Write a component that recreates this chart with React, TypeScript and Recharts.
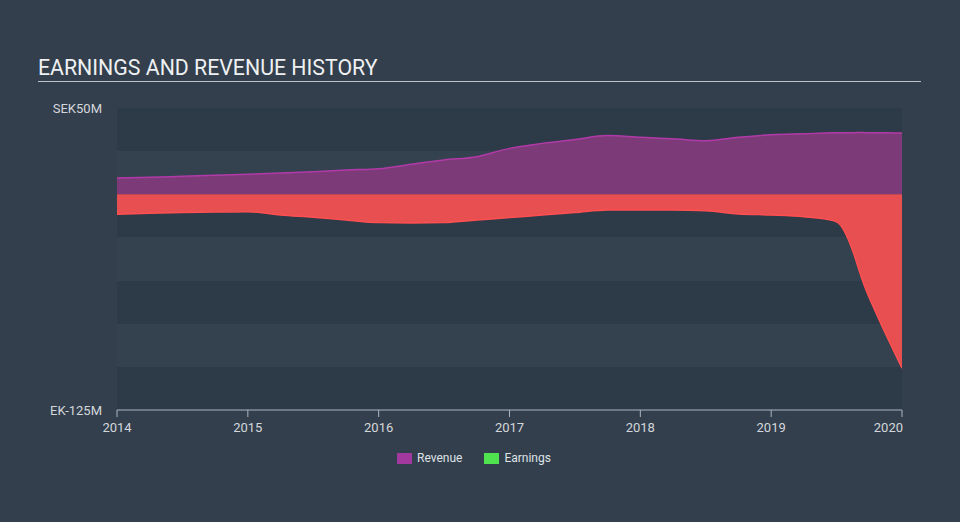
import React from 'react';
import { AreaChart, Area, XAxis, YAxis, CartesianGrid } from 'recharts';

const times = [
  2014, 2014.25, 2014.5, 2014.75, 2015, 2015.25, 2015.5, 2015.75, 2016, 2016.25, 2016.5, 2016.75,
  2017, 2017.25, 2017.5, 2017.75, 2018, 2018.25, 2018.5, 2018.75, 2019, 2019.25,
  2019.48, 2019.53, 2019.58, 2019.63, 2019.68, 2019.72, 2019.78, 2019.885, 2020,
];
const revenue = [
  9.5, 9.8, 10.4, 11, 11.6, 12.3, 13.1, 14.1, 14.8, 17.4, 19.9, 21.8,
  26.6, 29.5, 31.8, 34, 33, 32.2, 31, 33, 34.5, 35.1,
  35.6, 35.6, 35.7, 35.7, 35.8, 35.7, 35.7, 35.6, 35.5,
];
const earnings = [
  -11.6, -11, -10.6, -10.3, -10.1, -12, -13.3, -14.9, -16.4, -16.6, -16.4, -14.9,
  -13.5, -12, -10.6, -9.1, -9.1, -9.1, -9.5, -11.4, -12, -13,
  -15.3, -17.8, -24.6, -34.2, -45.8, -54.5, -65.1, -82.5, -100.8,
];
const xTicks = [2014, 2015, 2016, 2017, 2018, 2019, 2020];
const yBands = [50, 25, 0, -25, -50, -75, -100, -125];
const yTickLabels: Record<number, string> = { 50: 'SEK50M', [-125]: 'EK-125M' };
const legendItems = [
  { name: 'Revenue', color: '#a3399f' },
  { name: 'Earnings', color: '#4fe34f' },
];

const data = times.map((t, i) => ({ t, revenue: revenue[i], earnings: earnings[i] }));

const FONT = 'Roboto, "Noto Sans", sans-serif';

const YTick = (props: any) => {
  const { y, payload } = props;
  const label = yTickLabels[payload.value];
  if (!label) return null;
  return (
    <text x={102} y={y} textAnchor="end" dominantBaseline="central" fill="#d3d7dc" fontSize={13} fontFamily={FONT}>
      {label}
    </text>
  );
};

const XTick = (props: any) => {
  const { x, y, payload } = props;
  const last = payload.value === xTicks[xTicks.length - 1];
  return (
    <text
      x={last ? x + 1 : x}
      y={y + 8}
      textAnchor={last ? 'end' : 'middle'}
      dominantBaseline="central"
      fill="#d3d7dc"
      fontSize={13}
      fontFamily={FONT}
    >
      {payload.value}
    </text>
  );
};

export default function App() {
  return (
    <div
      style={{
        position: 'fixed',
        left: 0,
        top: 0,
        width: 960,
        height: 522,
        background: '#333f4c',
        fontFamily: FONT,
        overflow: 'hidden',
      }}
    >
      <div
        style={{
          position: 'absolute',
          left: 38,
          top: 55,
          fontSize: 21.3,
          color: '#eef0f2',
          lineHeight: '26px',
          whiteSpace: 'nowrap',
        }}
      >
        EARNINGS AND REVENUE HISTORY
      </div>
      <div style={{ position: 'absolute', left: 38, top: 81, width: 883, height: 1, background: '#b9c0c8' }} />
      <div style={{ position: 'absolute', left: 0, top: 0 }}>
        <AreaChart width={960} height={522} data={data} margin={{ top: 108, right: 58, bottom: 82, left: 0 }}>
          <CartesianGrid
            vertical={false}
            horizontal={true}
            stroke="none"
            horizontalFill={['#2d3a48', '#34424f']}
            fillOpacity={1}
          />
          <XAxis
            dataKey="t"
            type="number"
            domain={[2014, 2020]}
            ticks={xTicks}
            allowDataOverflow
            height={30}
            stroke="#aeb6bf"
            tickLine={{ stroke: '#aeb6bf' }}
            tickSize={7}
            tick={<XTick />}
            interval={0}
          />
          <YAxis
            type="number"
            domain={[-125, 50]}
            ticks={yBands}
            width={117}
            axisLine={false}
            tickLine={false}
            tick={<YTick />}
            interval={0}
          />
          <Area
            type="monotone"
            dataKey="revenue"
            stroke="#b23aa8"
            strokeWidth={1.5}
            fill="#7d3a78"
            fillOpacity={1}
            isAnimationActive={false}
            dot={false}
            activeDot={false}
          />
          <Area
            type="monotone"
            dataKey="earnings"
            stroke="#ff4f50"
            strokeWidth={1.5}
            fill="#e84f50"
            fillOpacity={1}
            isAnimationActive={false}
            dot={false}
            activeDot={false}
          />
        </AreaChart>
      </div>
      <div
        style={{
          position: 'absolute',
          left: 397,
          top: 452,
          display: 'flex',
          alignItems: 'center',
          fontSize: 12,
          color: '#dfe2e6',
          whiteSpace: 'nowrap',
        }}
      >
        {legendItems.map((it, i) => (
          <div key={it.name} style={{ display: 'flex', alignItems: 'center', marginRight: i === 0 ? 22 : 0 }}>
            <div style={{ width: 15, height: 11, background: it.color, marginRight: 5 }} />
            <span style={{ lineHeight: '13px' }}>{it.name}</span>
          </div>
        ))}
      </div>
    </div>
  );
}
